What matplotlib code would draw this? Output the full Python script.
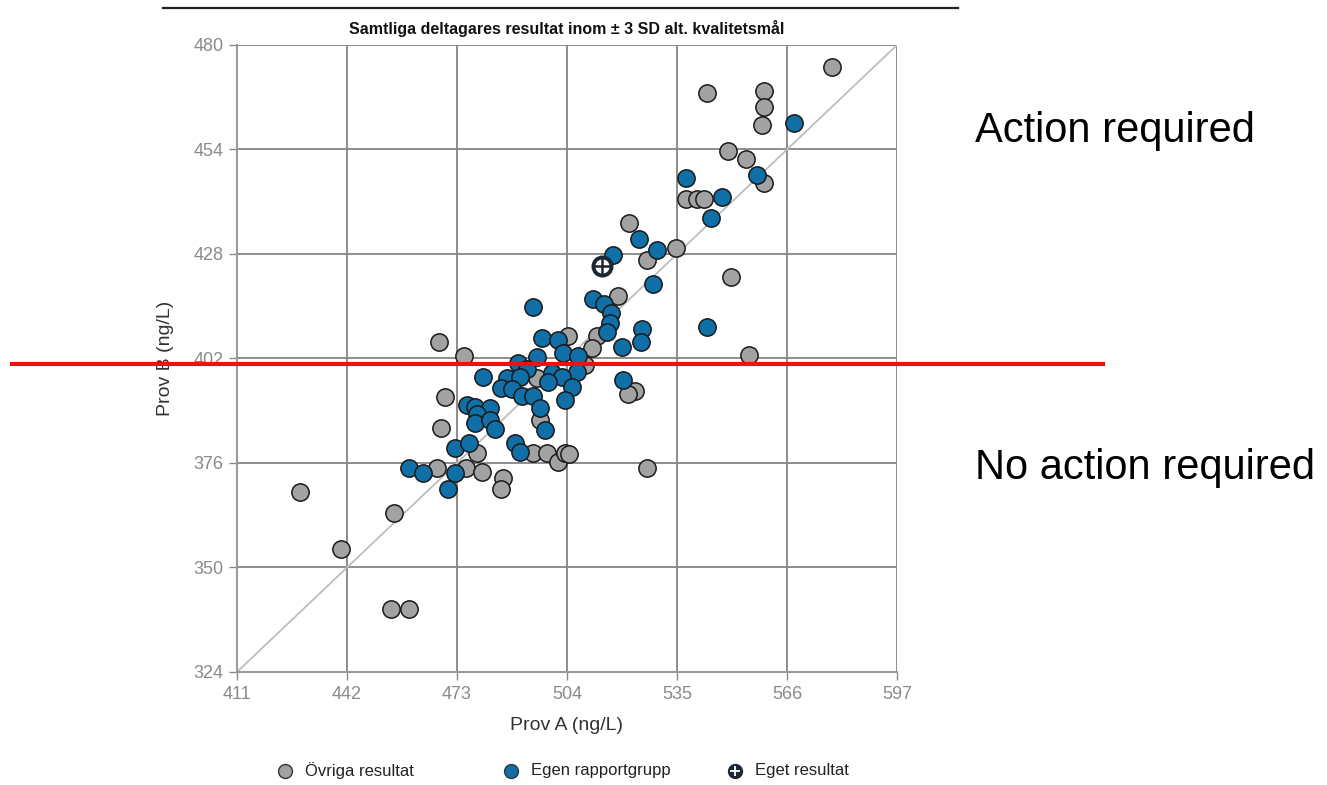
import matplotlib
matplotlib.use("Agg")
import matplotlib.pyplot as plt
from matplotlib.lines import Line2D

plt.rcParams['font.family'] = ['Liberation Sans', 'DejaVu Sans']

# ---- data ----
x_ticks = [411, 442, 473, 504, 535, 566, 597]
y_ticks = [324, 350, 376, 402, 428, 454, 480]

ovriga_A = [578.7, 543.5, 559.5, 559.5, 559.0, 549.4, 554.5, 559.5, 537.6, 540.7,
            542.6, 521.5, 534.7, 526.6, 550.2, 518.4, 504.3, 512.5, 511.1, 555.3,
            509.1, 467.9, 475.0, 495.6, 469.6, 523.2, 521.2, 496.4, 468.5, 478.6,
            494.4, 498.4, 501.5, 503.4, 504.6, 467.4, 475.5, 480.1, 486.0, 485.4,
            526.6, 428.8, 455.3, 440.3, 454.4, 459.5]
ovriga_B = [474.5, 468.1, 468.6, 464.6, 460.1, 453.6, 451.6, 445.7, 441.7, 441.7,
            441.7, 435.7, 429.5, 426.5, 422.3, 417.6, 407.6, 407.6, 404.6, 402.9,
            400.4, 406.1, 402.6, 397.2, 392.4, 393.9, 393.2, 386.7, 384.7, 378.5,
            378.5, 378.5, 376.3, 378.5, 378.3, 374.8, 374.8, 373.8, 372.3, 369.5,
            374.8, 368.8, 363.6, 354.6, 339.7, 339.7]

egen_A = [568.0, 537.6, 557.6, 547.7, 544.6, 524.3, 529.4, 517.0, 528.2, 543.5,
          511.3, 514.4, 516.4, 516.1, 515.3, 525.1, 524.9, 519.5, 494.4, 497.0,
          501.5, 495.6, 502.9, 507.1, 490.2, 492.7, 506.8, 499.8, 502.6, 480.3,
          487.1, 490.8, 485.4, 488.5, 491.3, 494.4, 498.7, 505.4, 503.4, 496.4,
          497.8, 519.8, 475.8, 478.1, 482.3, 478.6, 478.1, 482.3, 483.7, 489.4,
          490.8, 472.4, 476.4, 459.5, 463.4, 472.4, 470.5]
egen_B = [460.6, 446.9, 447.7, 442.2, 437.0, 431.7, 429.0, 427.8, 420.5, 409.8,
          416.8, 415.6, 413.3, 410.8, 408.6, 409.4, 406.1, 404.9, 414.8, 407.1,
          406.6, 402.4, 403.4, 402.6, 400.9, 399.4, 398.7, 398.4, 397.4, 397.4,
          397.2, 397.4, 394.7, 394.4, 392.7, 392.7, 396.2, 394.9, 391.7, 389.7,
          384.2, 396.7, 390.4, 389.9, 389.7, 388.2, 386.0, 386.7, 384.5, 381.0,
          378.8, 379.7, 381.0, 374.8, 373.5, 373.5, 369.5]

eget_A = [513.9]
eget_B = [425.0]

title = "Samtliga deltagares resultat inom \u00b1 3 SD alt. kvalitetsm\u00e5l"
xlabel = "Prov A (ng/L)"
ylabel = "Prov B (ng/L)"
legend_labels = ["\u00d6vriga resultat", "Egen rapportgrupp", "Eget resultat"]
note_top = "Action required"
note_bottom = "No action required"
threshold_B = 400.6

# ---- styling ----
W, H = 1327, 785
fig = plt.figure(figsize=(W / 100, H / 100), dpi=100)
ax = fig.add_axes([237 / W, 1 - 672 / H, 660 / W, 627 / H])

GRAY = '#a2a2a2'
BLUE = '#0f6fa6'
GRID = '#858585'
TICKC = '#8a8a8a'
S = 155

ax.set_xlim(x_ticks[0], x_ticks[-1])
ax.set_ylim(y_ticks[0], y_ticks[-1])
ax.set_xticks(x_ticks)
ax.set_yticks(y_ticks)
ax.grid(True, color=GRID, lw=1.3, zorder=0)
ax.set_axisbelow(True)
for s in ['top', 'right']:
    ax.spines[s].set_visible(False)
for s in ['left', 'bottom']:
    ax.spines[s].set_color('#9a9a9a')
    ax.spines[s].set_linewidth(1.5)
ax.tick_params(colors=TICKC, labelsize=13, length=6, width=1, labelcolor=TICKC)
ax.tick_params(axis='x', pad=4)

# diagonal corner to corner
ax.plot([x_ticks[0], x_ticks[-1]], [y_ticks[0], y_ticks[-1]],
        color='#bdbdbd', lw=1.3, zorder=1)

ax.scatter(ovriga_A, ovriga_B, s=S, c=GRAY, edgecolors='#1a1a1a',
           linewidths=1.1, zorder=3, clip_on=False)
ax.scatter(egen_A, egen_B, s=S, c=BLUE, edgecolors='#1a1a1a',
           linewidths=1.1, zorder=4, clip_on=False)
ax.scatter(eget_A, eget_B, s=170, c='white', edgecolors='#1b2733',
           linewidths=2.8, zorder=5)
ax.scatter(eget_A, eget_B, s=120, marker='+', c='#1b2733',
           linewidths=1.8, zorder=6)

ax.set_title(title, fontsize=11.5, fontweight='bold', color='#111111', pad=8)
ax.set_xlabel(xlabel, fontsize=14, color='#333333', labelpad=10)
ax.set_ylabel(ylabel, fontsize=14, color='#333333', labelpad=14)

# top black rule
fig.add_artist(Line2D([163 / W, 958 / W], [1 - 8 / H] * 2,
                      color='#222222', lw=1.6))

# legend (manual)
ly = 1 - 771 / H
items = [(285, GRAY, legend_labels[0]), (511, BLUE, legend_labels[1])]
for px, col, lab in items:
    fig.add_artist(Line2D([px / W], [ly], marker='o', markersize=10,
                          markerfacecolor=col, markeredgecolor='#333333',
                          markeredgewidth=1, linestyle='none'))
    fig.text((px + 20) / W, ly, lab, fontsize=12, color='#222222', va='center')
fig.add_artist(Line2D([735 / W], [ly], marker='o', markersize=10,
                      markerfacecolor='#1b2733', markeredgecolor='#1b2733',
                      linestyle='none'))
fig.add_artist(Line2D([735 / W], [ly], marker='+', markersize=7,
                      markeredgecolor='white', markeredgewidth=1.3,
                      linestyle='none'))
fig.text(755 / W, ly, legend_labels[2], fontsize=12, color='#222222', va='center')

# red threshold line
yb = ax.transData.transform((x_ticks[0], threshold_B))[1] / H
fig.add_artist(Line2D([12 / W, 1103 / W], [yb, yb], color='#ee1111', lw=3))

fig.text(975 / W, 1 - 131 / H, note_top, fontsize=30, color='black', va='center')
fig.text(975 / W, 1 - 468 / H, note_bottom, fontsize=30, color='black', va='center')

fig.savefig('out.png', dpi=100, facecolor='white')
